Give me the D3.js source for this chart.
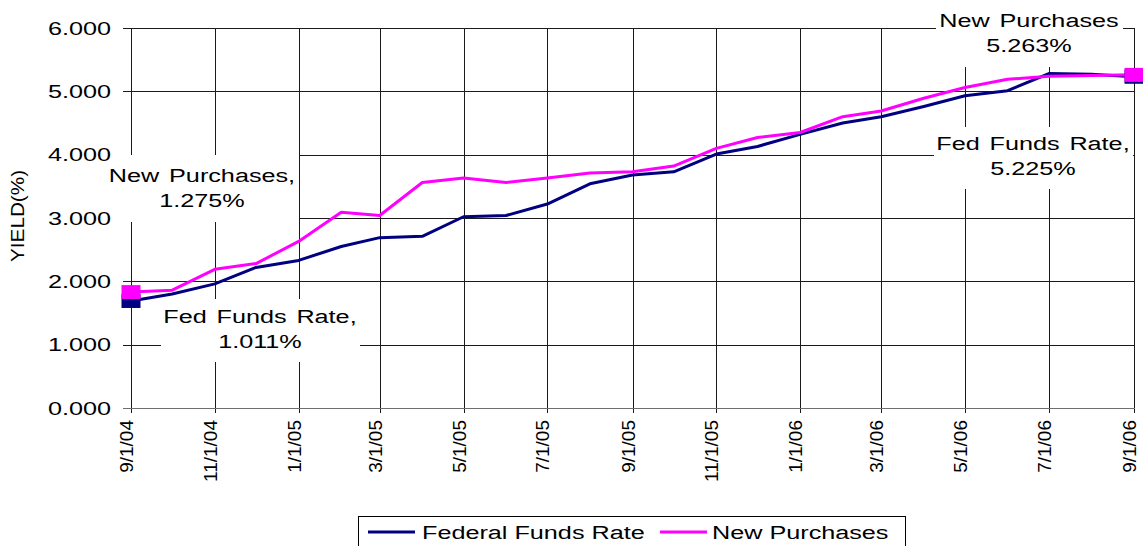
<!DOCTYPE html>
<html>
<head>
<meta charset="utf-8">
<script src="https://cdn.jsdelivr.net/npm/d3@7"></script>
<style>
  body { margin: 0; background: #fff; }
  text { font-family: "Liberation Sans", Arial, sans-serif; fill: #000; }
</style>
</head>
<body>
<div id="chart"></div>
<script>
// monthly observations, 9/1/04 .. 9/1/06
const months = ["9/1/04","10/1/04","11/1/04","12/1/04","1/1/05","2/1/05","3/1/05","4/1/05",
  "5/1/05","6/1/05","7/1/05","8/1/05","9/1/05","10/1/05","11/1/05","12/1/05",
  "1/1/06","2/1/06","3/1/06","4/1/06","5/1/06","6/1/06","7/1/06","8/1/06","9/1/06"];
const fedFunds = [1.69,1.80,1.96,2.22,2.33,2.55,2.69,2.71,3.02,3.04,3.22,3.54,3.68,3.73,
  4.01,4.13,4.32,4.50,4.60,4.76,4.93,5.01,5.28,5.27,5.23];
const newPurchases = [1.83,1.86,2.19,2.28,2.63,3.09,3.04,3.56,3.63,3.56,3.63,3.71,3.73,3.82,
  4.10,4.27,4.35,4.60,4.69,4.89,5.06,5.19,5.24,5.25,5.26];
const xTickLabels = ["9/1/04","11/1/04","1/1/05","3/1/05","5/1/05","7/1/05","9/1/05",
  "11/1/05","1/1/06","3/1/06","5/1/06","7/1/06","9/1/06"];
const yTicks = [0,1,2,3,4,5,6];
const seriesNames = ["Federal Funds Rate","New Purchases"];
const seriesColors = ["#000080","#ff00ff"];
const noteTexts = [
  ["New Purchases,","1.275%"],
  ["Fed Funds Rate,","1.011%"],
  ["New Purchases","5.263%"],
  ["Fed Funds Rate,","5.225%"]
];

const width = 1143, height = 546;
const plot = { left: 131, right: 1134, top: 28, bottom: 408 };
const SX = 1.4; // text in the original is stretched sideways

const parse = d3.timeParse("%m/%d/%y");
const dates = months.map(parse);

const svg = d3.select("#chart").append("svg")
  .attr("width", width).attr("height", height);

const x = d3.scaleTime().domain([dates[0], dates[dates.length - 1]]).range([plot.left, plot.right]);
const y = d3.scaleLinear().domain([0, 6]).range([plot.bottom, plot.top]);

function stretch(sel, k) {
  sel.each(function () {
    const w = this.getComputedTextLength();
    d3.select(this).attr("textLength", w * k).attr("lengthAdjust", "spacingAndGlyphs");
  });
}

const crisp = v => Math.round(v) + 0.5;

// grid
const grid = svg.append("g").attr("shape-rendering", "crispEdges");
grid.selectAll(".hg").data(yTicks.filter(d => d > 0)).enter().append("line")
  .attr("x1", plot.left - 8).attr("x2", plot.right)
  .attr("y1", d => crisp(y(d))).attr("y2", d => crisp(y(d)))
  .attr("stroke", "#1a1a1a");
grid.selectAll(".vg").data(xTickLabels.map(parse)).enter().append("line")
  .attr("x1", d => crisp(x(d))).attr("x2", d => crisp(x(d)))
  .attr("y1", plot.top).attr("y2", plot.bottom + 5)
  .attr("stroke", "#1a1a1a");
// bottom axis
grid.append("line")
  .attr("x1", plot.left - 8).attr("x2", plot.right + 1)
  .attr("y1", crisp(y(0))).attr("y2", crisp(y(0)))
  .attr("stroke", "#6e6e6e").attr("stroke-width", 1.5);

// white boxes behind data labels
const boxes = [
  [106, 155, 299, 222],
  [161, 299, 360, 362],
  [936, 4, 1123, 67],
  [934, 127, 1133, 189]
];
svg.selectAll(".nb").data(boxes).enter().append("rect")
  .attr("x", d => d[0]).attr("y", d => d[1])
  .attr("width", d => d[2] - d[0]).attr("height", d => d[3] - d[1])
  .attr("fill", "#fff");

// y tick labels
svg.selectAll(".yl").data(yTicks).enter().append("text")
  .attr("x", 111).attr("y", d => y(d) + 6.5)
  .attr("text-anchor", "end").attr("font-size", 18)
  .text(d => d3.format(".3f")(d))
  .call(stretch, SX);

// y title
svg.append("text")
  .attr("transform", "translate(24,216) rotate(-90)")
  .attr("text-anchor", "middle").attr("font-size", 18)
  .attr("textLength", 92).attr("lengthAdjust", "spacingAndGlyphs")
  .text("YIELD(%)");

// x tick labels
svg.selectAll(".xl").data(xTickLabels).enter().append("text")
  .attr("transform", d => `translate(${x(parse(d)) + 2},420) rotate(-90)`)
  .attr("text-anchor", "end").attr("font-size", 19)
  .text(d => d);

// series
const series = [fedFunds, newPurchases];
const line = d3.line().x((d, i) => x(dates[i])).y(d => y(d));
series.forEach((vals, s) => {
  svg.append("path").datum(vals)
    .attr("d", line)
    .attr("fill", "none")
    .attr("stroke", seriesColors[s])
    .attr("stroke-width", 3)
    .attr("stroke-linejoin", "round");
});
series.forEach((vals, s) => {
  const ends = [0, vals.length - 1];
  svg.selectAll(".mk" + s).data(ends).enter().append("rect")
    .attr("x", i => x(dates[i]) - 9.5).attr("y", i => y(vals[i]) - 7)
    .attr("width", 19).attr("height", 14)
    .attr("fill", seriesColors[s]);
});

// data labels
const notePos = [[202, 182], [260, 323], [1029, 27], [1033, 150]];
noteTexts.forEach((lines, n) => {
  lines.forEach((t, j) => {
    svg.append("text")
      .attr("x", notePos[n][0]).attr("y", notePos[n][1] + j * 25)
      .attr("text-anchor", "middle").attr("font-size", 18)
      .attr("word-spacing", 2)
      .text(t)
      .call(stretch, SX);
  });
});

// legend
const lg = svg.append("g");
lg.append("rect")
  .attr("x", 358.5).attr("y", 516.5).attr("width", 547).attr("height", 40)
  .attr("fill", "#fff").attr("stroke", "#000");
const legendX = [[368, 422], [660, 712]];
seriesNames.forEach((name, s) => {
  lg.append("line")
    .attr("x1", legendX[s][0]).attr("x2", legendX[s][0] + 47)
    .attr("y1", 532).attr("y2", 532)
    .attr("stroke", seriesColors[s]).attr("stroke-width", 3);
  lg.append("text")
    .attr("x", legendX[s][1]).attr("y", 539)
    .attr("font-size", 18)
    .text(name)
    .call(stretch, SX);
});
</script>
</body>
</html>
